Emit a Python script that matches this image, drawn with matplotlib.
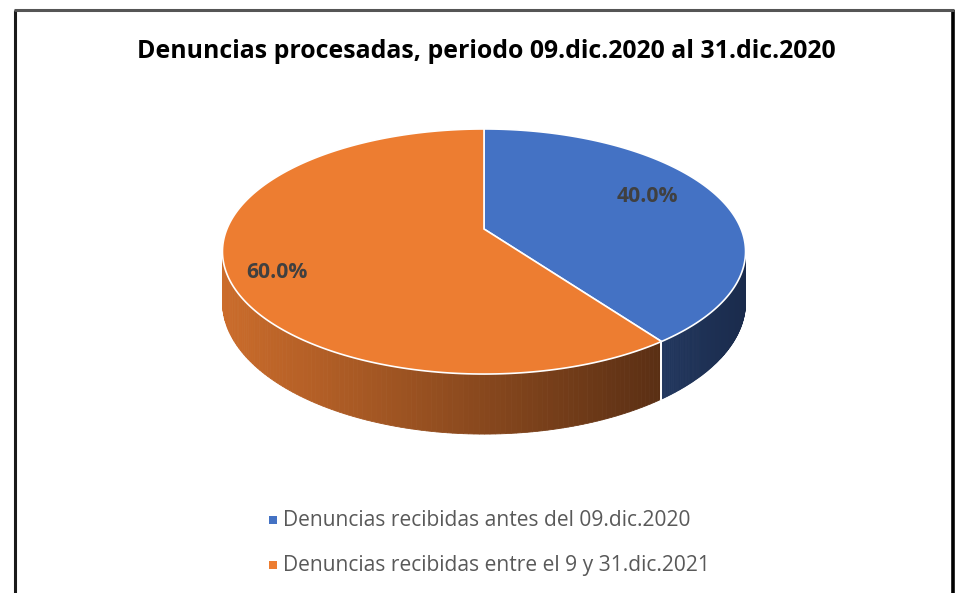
import numpy as np
import matplotlib
matplotlib.use("Agg")
import matplotlib.pyplot as plt
from matplotlib.patches import Polygon, Rectangle
from matplotlib.colors import to_rgb

# ---- data ----
title = "Denuncias procesadas, periodo 09.dic.2020 al 31.dic.2020"
categories = ["Denuncias recibidas antes del 09.dic.2020",
              "Denuncias recibidas entre el 9 y 31.dic.2021"]
values = [40.0, 60.0]
top_colors = ["#4472C4", "#ED7D31"]
side_colors = [("#22375E", "#1A2B4C"), ("#CB6C2B", "#5A2F14")]

W, H = 962, 593
fig = plt.figure(figsize=(W / 100, H / 100), dpi=100)
ax = fig.add_axes([0, 0, 1, 1])
ax.set_xlim(0, W)
ax.set_ylim(H, 0)
ax.axis("off")

# frame
ax.plot([15, 15], [10, H + 5], color="#1a1a1a", lw=2.2, solid_capstyle="butt")
ax.plot([953, 953], [10, H + 5], color="#000000", lw=2.6, solid_capstyle="butt")
ax.plot([14, 954], [10, 10], color="#555555", lw=2.2, solid_capstyle="butt")

# perspective projection of the pie
cx, cy = 484, 229
p = 0.1837
s = 257.1
sk = 118.4
D = 49.0


def proj(theta_deg, depth=0.0):
    t = np.radians(theta_deg)
    u = np.sin(t)
    v = np.cos(t)
    w = 1 + p * v
    x = cx + s * u / w
    y = cy - sk * v / w + depth / w
    return x, y


total = sum(values)
angles = np.cumsum([0] + values) / total * 360.0
vis_lo = np.degrees(np.arccos(-p))
vis_hi = 360 - vis_lo

# side walls
for i in range(len(values)):
    a0, a1 = angles[i], angles[i + 1]
    lo, hi = max(a0, vis_lo), min(a1, vis_hi)
    if hi <= lo:
        continue
    ts = np.linspace(lo, hi, 120)
    c_left = np.array(to_rgb(side_colors[i][0]))
    c_right = np.array(to_rgb(side_colors[i][1]))
    xs_all = [proj(t)[0] for t in ts]
    xmin, xmax = min(xs_all), max(xs_all)
    for j in range(len(ts) - 1):
        t0, t1 = ts[j], ts[j + 1]
        x0, y0 = proj(t0)
        x1, y1 = proj(t1)
        x0b, y0b = proj(t0, D)
        x1b, y1b = proj(t1, D)
        xm = 0.5 * (x0 + x1)
        f = (xmax - xm) / (xmax - xmin) if xmax > xmin else 0
        col = c_left * f + c_right * (1 - f)
        ax.add_patch(Polygon([(x0, y0), (x1, y1), (x1b, y1b), (x0b, y0b)],
                             closed=True, facecolor=col, edgecolor=col, lw=0.6))
    # white separator at slice boundary on the visible side
    for a in (a0, a1):
        if vis_lo < a < vis_hi:
            xa, ya = proj(a)
            xb, yb = proj(a, D)
            ax.plot([xa, xb], [ya, yb], color="white", lw=1.3, zorder=3)

# top faces
for i in range(len(values)):
    a0, a1 = angles[i], angles[i + 1]
    ts = np.linspace(a0, a1, 200)
    pts = [(cx, cy)] + [proj(t) for t in ts]
    ax.add_patch(Polygon(pts, closed=True, facecolor=top_colors[i],
                         edgecolor="white", lw=1.2, zorder=4))

# data labels
labels = [f"{v:.1f}%" for v in values]
label_pos = [(647, 197), (277, 272)]
for lab, (lx, ly) in zip(labels, label_pos):
    ax.text(lx, ly, lab, ha="center", va="center", fontsize=15.2,
            fontweight="bold", color="#404040", family="Open Sans", zorder=5)

# title
ax.text(486, 51, title, ha="center", va="center", fontsize=17.9,
        fontweight="bold", color="black", family="Open Sans")

# legend
leg_y = [520, 565]
for cat, col, ly in zip(categories, top_colors, leg_y):
    ax.add_patch(Rectangle((269, ly - 4), 8, 8, facecolor=col, edgecolor="none"))
    ax.text(283, ly, cat, ha="left", va="center", fontsize=15.1,
            color="#595959", family="Open Sans")

fig.savefig("out.png", dpi=100)
